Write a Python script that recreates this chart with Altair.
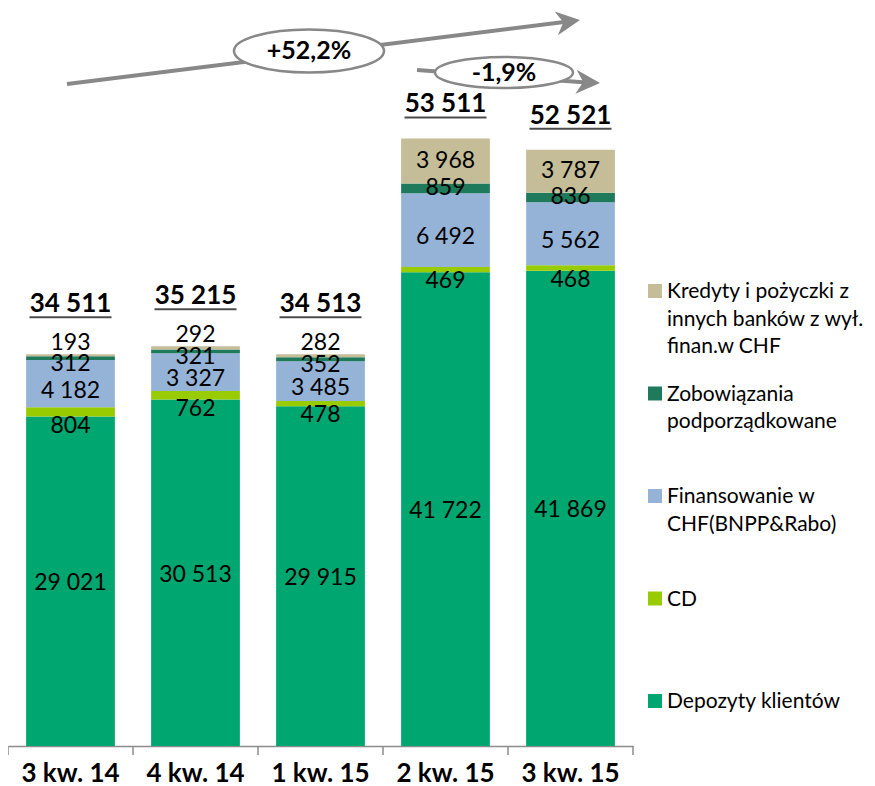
import altair as alt
import pandas as pd

# ---------------- data ----------------
QUARTERS = ["3 kw. 14", "4 kw. 14", "1 kw. 15", "2 kw. 15", "3 kw. 15"]
SERIES = [
    "Depozyty klientów",
    "CD",
    "Finansowanie w CHF(BNPP&Rabo)",
    "Zobowiązania podporządkowane",
    "Kredyty i pożyczki z innych banków z wył. finan.w CHF",
]
LEGEND_LABELS = [
    "Depozyty klientów",
    "CD",
    "Finansowanie w\nCHF(BNPP&Rabo)",
    "Zobowiązania\npodporządkowane",
    "Kredyty i pożyczki z\ninnych banków z wył.\nfinan.w CHF",
]
DEPOZYTY = [29021, 30513, 29915, 41722, 41869]
CD = [804, 762, 478, 469, 468]
FINANSOWANIE = [4182, 3327, 3485, 6492, 5562]
ZOBOWIAZANIA = [312, 321, 352, 859, 836]
KREDYTY = [193, 292, 282, 3968, 3787]
TOTALS = [34511, 35215, 34513, 53511, 52521]
GROWTH_LABELS = ["+52,2%", "-1,9%"]
COLORS = ["#00A66F", "#99CC00", "#95B3D7", "#1F7A5B", "#C4BD97"]

VALUES = [DEPOZYTY, CD, FINANSOWANIE, ZOBOWIAZANIA, KREDYTY]


def fmt(v):
    return f"{v:,}".replace(",", " ")


rows = []
for i, q in enumerate(QUARTERS):
    cum = 0
    for k, s in enumerate(SERIES):
        v = VALUES[k][i]
        rows.append(
            dict(quarter=q, series=s, k=k, value=v, start=cum, end=cum + v,
                 mid=cum + v / 2, label=fmt(v), big=TOTALS[i] > 50000)
        )
        cum += v
df = pd.DataFrame(rows)
tot = pd.DataFrame(dict(quarter=QUARTERS, total=TOTALS,
                        label=[fmt(t) for t in TOTALS],
                        big=[t > 50000 for t in TOTALS],
                        last=[q == QUARTERS[-1] for q in QUARTERS]))
leg = pd.DataFrame(dict(series=SERIES, label=LEGEND_LABELS))

FONT = "Lato"
AXIS_GRAY = "#8C8C8C"
HALF_STEP = 62.5

x_enc = alt.X(
    "quarter:N", sort=QUARTERS,
    scale=alt.Scale(paddingInner=0.29, paddingOuter=0.145),
    axis=alt.Axis(title=None, labelAngle=0, labelFont=FONT, labelFontSize=26,
                  labelFontWeight="bold", labelColor="black", domainColor=AXIS_GRAY,
                  ticks=False, grid=False, labelPadding=14, domainWidth=1.5),
)
x_plain = alt.X("quarter:N", sort=QUARTERS)
y_scale = alt.Scale(domain=[0, 65000], nice=False, zero=True)


def y_of(field):
    return alt.Y(f"{field}:Q", scale=y_scale, axis=None)


color_enc = alt.Color("series:N", scale=alt.Scale(domain=SERIES, range=COLORS), legend=None)

base = alt.Chart(df)
bars = base.mark_bar().encode(x=x_enc, y=y_of("start"), y2="end:Q", color=color_enc)

# category boundary ticks below the axis line
tick_l = alt.Chart(tot).mark_rule(color=AXIS_GRAY, strokeWidth=1.5, xOffset=-HALF_STEP).encode(
    x=x_plain, y=alt.value(738), y2=alt.value(747))
tick_r = alt.Chart(tot).transform_filter("datum.last").mark_rule(
    color=AXIS_GRAY, strokeWidth=1.5, xOffset=HALF_STEP).encode(
    x=x_plain, y=alt.value(738), y2=alt.value(747))


def seg_text(field, dy, cond):
    return base.transform_filter(cond).mark_text(
        font=FONT, fontSize=23, color="black", baseline="middle", dy=dy
    ).encode(x=x_plain, y=y_of(field), text="label:N")


t_dep = seg_text("mid", 2, "datum.k == 0")
t_cd = seg_text("start", 9, "datum.k == 1")
t_fin = seg_text("mid", 7, "datum.k == 2")
t_zob_s = seg_text("mid", 6, "datum.k == 3 && !datum.big")
t_zob_b = seg_text("mid", 0, "datum.k == 3 && datum.big")
t_kr_s = seg_text("end", -11, "datum.k == 4 && !datum.big")
t_kr_b = seg_text("mid", 0, "datum.k == 4 && datum.big")

tbase = alt.Chart(tot)


def total_text(dy, cond):
    return tbase.transform_filter(cond).mark_text(
        font=FONT, fontSize=26, fontWeight="bold", color="black", baseline="middle", dy=dy
    ).encode(x=x_plain, y=y_of("total"), text="label:N")


def underline(dy, cond):
    return tbase.transform_filter(cond).mark_tick(
        orient="horizontal", thickness=2, size=82, color="black", yOffset=dy + 13
    ).encode(x=x_plain, y=y_of("total"))


main = alt.layer(
    bars, tick_l, tick_r, t_dep, t_cd, t_fin, t_zob_s, t_zob_b, t_kr_s, t_kr_b,
    total_text(-50, "!datum.big"), total_text(-34, "datum.big"),
    underline(-50, "!datum.big"), underline(-34, "datum.big"),
)

# ---------------- legend (manual, Excel-like) ----------------
leg_y = alt.Y("series:N", sort=SERIES[::-1],
              scale=alt.Scale(type="point", range=[283, 693], padding=0), axis=None)
leg_sq = alt.Chart(leg).mark_square(size=196, opacity=1).encode(
    x=alt.value(647), y=leg_y, color=color_enc)
leg_tx = alt.Chart(leg).mark_text(
    font=FONT, fontSize=21, align="left", baseline="alphabetic", dy=7,
    lineBreak="\n", lineHeight=27.5, color="black"
).encode(x=alt.value(659), y=leg_y, text="label:N")
legend_layer = alt.layer(leg_sq, leg_tx)

# ---------------- growth arrows ----------------
one = pd.DataFrame(dict(a=[0]))
g1 = pd.DataFrame(dict(t=[GROWTH_LABELS[0]]))
g2 = pd.DataFrame(dict(t=[GROWTH_LABELS[1]]))
GRAY = "#888888"
HEAD = "M0,0 L-2,-1 L-1.4,0 L-2,1 Z"

line1 = alt.Chart(one).mark_rule(strokeWidth=4, color=GRAY).encode(
    x=alt.value(59), y=alt.value(76), x2=alt.value(564), y2=alt.value(13))
head1 = alt.Chart(one).mark_point(shape=HEAD, size=576, filled=True, opacity=1,
                                  color=GRAY, angle=352).encode(x=alt.value(572), y=alt.value(12))
ell1 = alt.Chart(one).mark_point(
    shape="M-1,0 A1,0.287 0 1,0 1,0 A1,0.287 0 1,0 -1,0 Z", size=22500,
    filled=False, fill="white", fillOpacity=1, stroke=GRAY, strokeWidth=2.5, opacity=1
).encode(x=alt.value(301), y=alt.value(43))
txt1 = alt.Chart(g1).mark_text(font=FONT, fontSize=25, fontWeight="bold", color="black",
                               baseline="middle").encode(x=alt.value(301), y=alt.value(43), text="t:N")

line2 = alt.Chart(one).mark_rule(strokeWidth=4, color=GRAY).encode(
    x=alt.value(409), y=alt.value(62), x2=alt.value(585), y2=alt.value(75))
head2 = alt.Chart(one).mark_point(shape=HEAD, size=576, filled=True, opacity=1,
                                  color=GRAY, angle=3).encode(x=alt.value(592), y=alt.value(75))
ell2 = alt.Chart(one).mark_point(
    shape="M-1,0 A1,0.225 0 1,0 1,0 A1,0.225 0 1,0 -1,0 Z", size=19044,
    filled=False, fill="white", fillOpacity=1, stroke=GRAY, strokeWidth=2.5, opacity=1
).encode(x=alt.value(496), y=alt.value(64.5))
txt2 = alt.Chart(g2).mark_text(font=FONT, fontSize=25, fontWeight="bold", color="black",
                               baseline="middle").encode(x=alt.value(496), y=alt.value(64.5), text="t:N")

chart = alt.layer(
    main, legend_layer, line1, head1, ell1, txt1, line2, head2, ell2, txt2
).resolve_scale(y="independent").properties(
    width=625, height=738,
    background="white",
    autosize=alt.AutoSizeParams(type="none"),
    padding={"left": 0, "top": 0, "right": 234, "bottom": 40},
).configure_axis(grid=False).configure_view(stroke=None)

chart.save("out.html", embed_options={"renderer": "svg", "actions": False})
